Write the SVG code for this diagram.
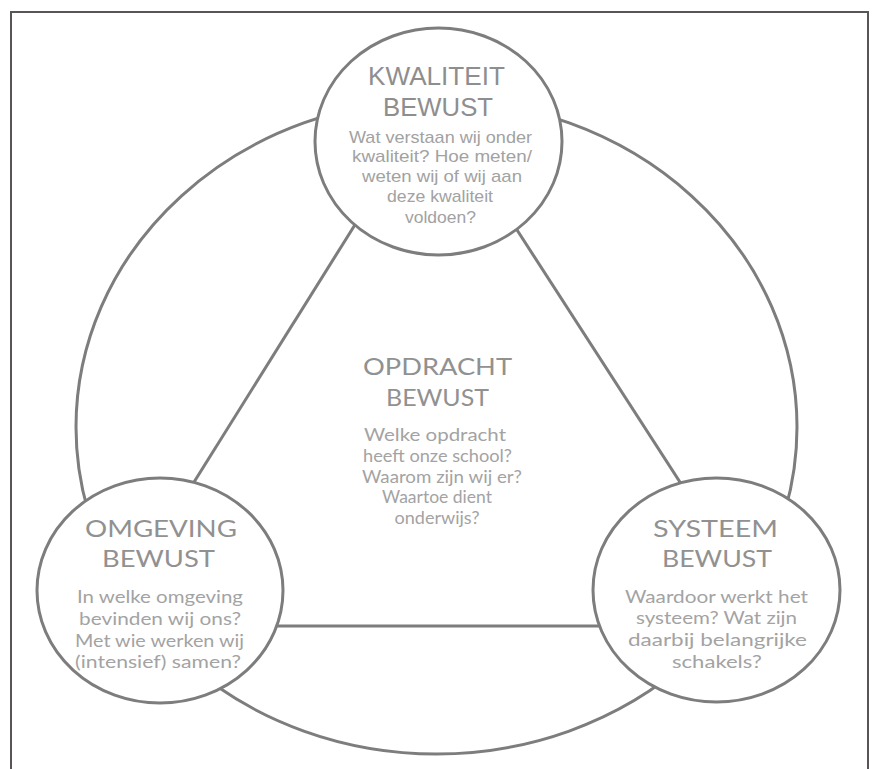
<svg xmlns="http://www.w3.org/2000/svg" width="873" height="769" viewBox="0 0 873 769">
  <style>
    .ring { fill: none; stroke: #7d7d7d; stroke-width: 3; }
    .edge { stroke: #7d7d7d; stroke-width: 3; fill: none; }
    .node { fill: #ffffff; stroke: #7d7d7d; stroke-width: 3; }
    .t1 { font-family: "Liberation Sans", Arial, sans-serif; font-size: 25px; fill: #8e8e8e; text-anchor: middle; }
    .b1 { font-family: "Liberation Sans", Arial, sans-serif; font-size: 17px; fill: #a2a2a2; text-anchor: middle; }
    .t2 { font-family: Lato, "Liberation Sans", sans-serif; font-size: 24px; fill: #919191; text-anchor: middle; }
    .b2 { font-family: Lato, "Liberation Sans", sans-serif; font-size: 17px; fill: #a3a3a3; text-anchor: middle; }
  </style>
  <rect x="0" y="0" width="873" height="769" fill="#ffffff"/>
  <path d="M11,775 L11,12 L868,12 L868,775" fill="none" stroke="#5a5555" stroke-width="2"/>

  <g id="connectors">
    <ellipse class="ring" cx="436.5" cy="427" rx="360.5" ry="327"/>
    <line class="edge" x1="433" y1="100" x2="104" y2="626"/>
    <line class="edge" x1="433" y1="100" x2="773" y2="626"/>
    <line class="edge" x1="104" y1="626" x2="773" y2="626"/>
  </g>

  <g id="opdracht">
    <text class="t2" x="437.5" y="375" textLength="149" lengthAdjust="spacingAndGlyphs">OPDRACHT</text>
    <text class="t2" x="437.5" y="406" textLength="103" lengthAdjust="spacingAndGlyphs">BEWUST</text>
    <text class="b2" x="435" y="441" textLength="142" lengthAdjust="spacingAndGlyphs">Welke opdracht</text>
    <text class="b2" x="437.5" y="462" textLength="149" lengthAdjust="spacingAndGlyphs">heeft onze school?</text>
    <text class="b2" x="442" y="483" textLength="160" lengthAdjust="spacingAndGlyphs">Waarom zijn wij er?</text>
    <text class="b2" x="437" y="503" textLength="110" lengthAdjust="spacingAndGlyphs">Waartoe dient</text>
    <text class="b2" x="437" y="524" textLength="85" lengthAdjust="spacingAndGlyphs">onderwijs?</text>
  </g>

  <g id="kwaliteit">
    <ellipse class="node" cx="438.5" cy="141.5" rx="123.5" ry="113.5"/>
    <text class="t1" x="436.5" y="85" textLength="137" lengthAdjust="spacingAndGlyphs">KWALITEIT</text>
    <text class="t1" x="438" y="116" textLength="110" lengthAdjust="spacingAndGlyphs">BEWUST</text>
    <text class="b1" x="440.5" y="143" textLength="183" lengthAdjust="spacingAndGlyphs">Wat verstaan wij onder</text>
    <text class="b1" x="442" y="162" textLength="180" lengthAdjust="spacingAndGlyphs">kwaliteit? Hoe meten/</text>
    <text class="b1" x="442" y="182" textLength="160" lengthAdjust="spacingAndGlyphs">weten wij of wij aan</text>
    <text class="b1" x="440" y="202" textLength="106" lengthAdjust="spacingAndGlyphs">deze kwaliteit</text>
    <text class="b1" x="440.5" y="223" textLength="71" lengthAdjust="spacingAndGlyphs">voldoen?</text>
  </g>

  <g id="omgeving">
    <ellipse class="node" cx="160" cy="590.5" rx="123" ry="112.5"/>
    <text class="t2" x="161" y="537" textLength="152" lengthAdjust="spacingAndGlyphs">OMGEVING</text>
    <text class="t2" x="158.5" y="567" textLength="113" lengthAdjust="spacingAndGlyphs">BEWUST</text>
    <text class="b2" x="160" y="603" textLength="166" lengthAdjust="spacingAndGlyphs">In welke omgeving</text>
    <text class="b2" x="160" y="625" textLength="162" lengthAdjust="spacingAndGlyphs">bevinden wij ons?</text>
    <text class="b2" x="159.5" y="647" textLength="169" lengthAdjust="spacingAndGlyphs">Met wie werken wij</text>
    <text class="b2" x="158" y="668" textLength="166" lengthAdjust="spacingAndGlyphs">(intensief) samen?</text>
  </g>

  <g id="systeem">
    <ellipse class="node" cx="716.5" cy="590" rx="123.5" ry="112"/>
    <text class="t2" x="715.5" y="537" textLength="125" lengthAdjust="spacingAndGlyphs">SYSTEEM</text>
    <text class="t2" x="717" y="567" textLength="110" lengthAdjust="spacingAndGlyphs">BEWUST</text>
    <text class="b2" x="716.5" y="603" textLength="183" lengthAdjust="spacingAndGlyphs">Waardoor werkt het</text>
    <text class="b2" x="716.5" y="624" textLength="161" lengthAdjust="spacingAndGlyphs">systeem? Wat zijn</text>
    <text class="b2" x="717.5" y="646" textLength="179" lengthAdjust="spacingAndGlyphs">daarbij belangrijke</text>
    <text class="b2" x="717" y="668" textLength="90" lengthAdjust="spacingAndGlyphs">schakels?</text>
  </g>
</svg>
